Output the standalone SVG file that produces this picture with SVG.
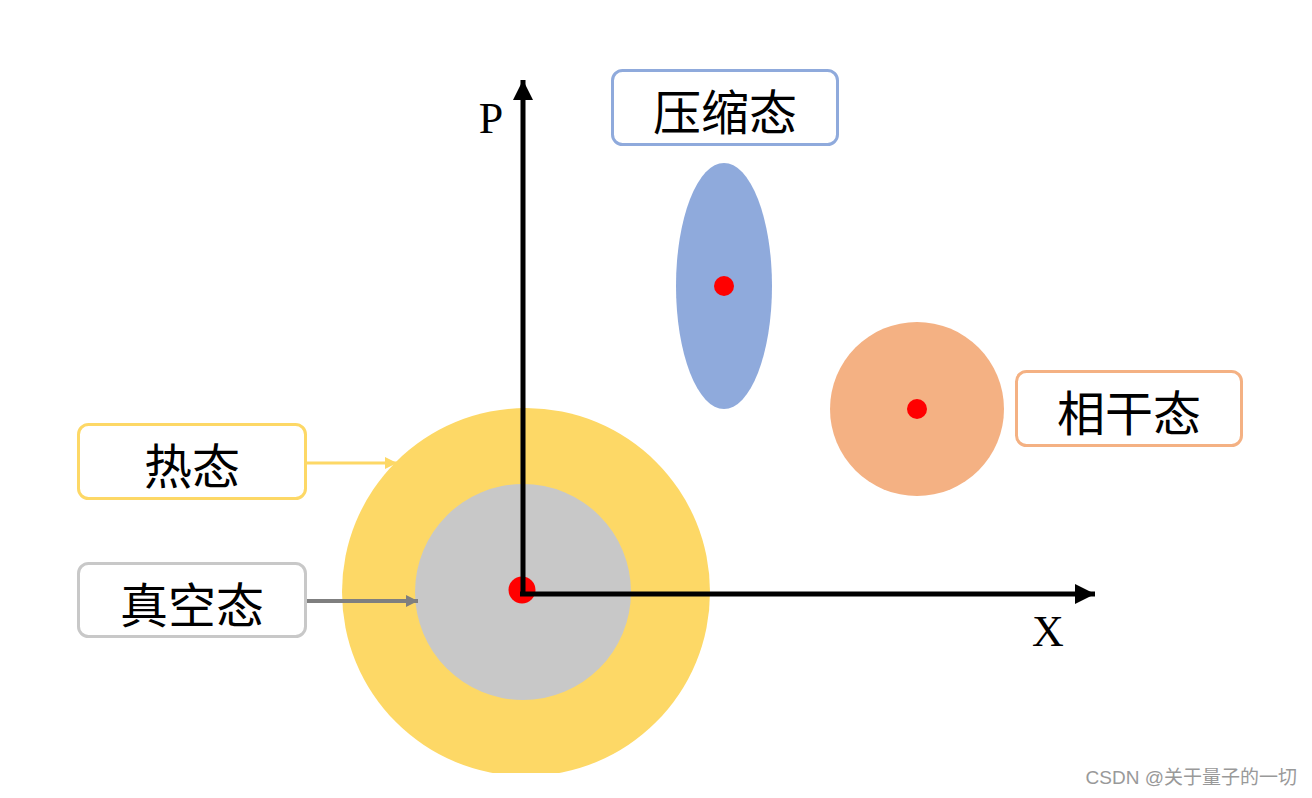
<svg xmlns="http://www.w3.org/2000/svg" width="1312" height="798" viewBox="0 0 1312 798">
<style>
.box{fill:#fff;stroke-width:3}
.lbl{font-family:"Liberation Serif","Noto Sans CJK SC",serif;font-size:44px;text-anchor:middle;fill:#000}
.cjk{font-family:"Liberation Serif","Noto Sans CJK SC",serif;font-size:48px;text-anchor:middle;fill:#000}
.axis{stroke:#000;stroke-width:5;fill:none}
</style>
<defs>
<marker id="ah" viewBox="0 0 10 10" refX="10" refY="5" markerWidth="4" markerHeight="4" orient="auto" markerUnits="strokeWidth"><path d="M0,0L10,5L0,10z" fill="#000"/></marker>
<marker id="ay" viewBox="0 0 10 10" refX="10" refY="5" markerWidth="4" markerHeight="4" orient="auto" markerUnits="strokeWidth"><path d="M0,0L10,5L0,10z" fill="#FDD866"/></marker>
<marker id="ag" viewBox="0 0 10 10" refX="10" refY="5" markerWidth="3" markerHeight="3" orient="auto" markerUnits="strokeWidth"><path d="M0,0L10,5L0,10z" fill="#7F7F7F"/></marker>
<clipPath id="clip"><rect x="0" y="0" width="1312" height="773"/></clipPath>
</defs>
<rect width="1312" height="798" fill="#fff"/>
<g id="thermal-shape" clip-path="url(#clip)"><circle cx="526" cy="592" r="184" fill="#FDD866"/></g>
<g id="vacuum-shape"><circle cx="523" cy="592" r="108" fill="#C8C8C8"/></g>
<g id="squeezed-shape"><ellipse cx="724" cy="286" rx="48" ry="123" fill="#8FAADC"/><circle cx="724" cy="286" r="10" fill="#FF0000"/></g>
<g id="coherent-shape"><circle cx="917" cy="409" r="87" fill="#F4B183"/><circle cx="917" cy="409" r="10" fill="#FF0000"/></g>
<g id="origin"><circle cx="522" cy="590" r="13.5" fill="#FF0000"/></g>
<g id="connectors">
<path class="axis" d="M523,596 V80" marker-end="url(#ah)"/>
<path class="axis" d="M520,594 H1095" marker-end="url(#ah)"/>
<path d="M306,463 H397" stroke="#FDD866" stroke-width="3" fill="none" marker-end="url(#ay)"/>
<path d="M306,601 H418" stroke="#7F7F7F" stroke-width="4" fill="none" marker-end="url(#ag)"/>
</g>
<g id="axis-labels">
<text class="lbl" x="491" y="133">P</text>
<text class="lbl" x="1048" y="646">X</text>
</g>
<g id="thermal"><rect class="box" x="78.5" y="424.5" width="227" height="74" rx="10" stroke="#FDD866"/><text class="cjk" x="192" y="484">热态</text></g>
<g id="vacuum"><rect class="box" x="78.5" y="563.5" width="227" height="73" rx="10" stroke="#C8C8C8"/><text class="cjk" x="192" y="623">真空态</text></g>
<g id="squeezed"><rect class="box" x="612.5" y="70.5" width="225" height="74" rx="10" stroke="#8FAADC"/><text class="cjk" x="725" y="130">压缩态</text></g>
<g id="coherent"><rect class="box" x="1016.5" y="371.5" width="225" height="74" rx="10" stroke="#F4B183"/><text class="cjk" x="1129" y="431">相干态</text></g>
<text x="1297" y="784" font-family="'Liberation Sans','Noto Sans CJK SC',sans-serif" font-size="19" fill="#999" text-anchor="end">CSDN @关于量子的一切</text>
</svg>
